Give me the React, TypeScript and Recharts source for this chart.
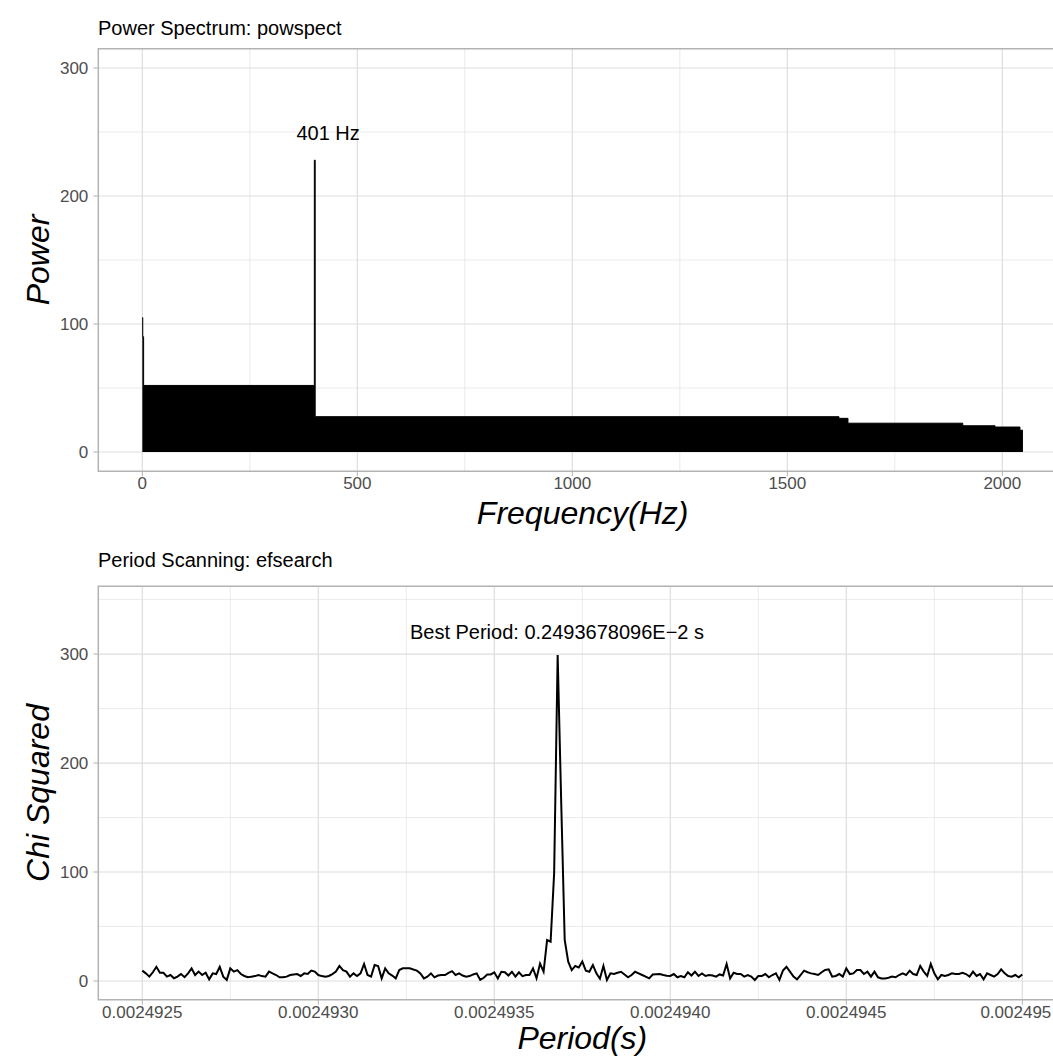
import {
  ComposedChart,
  Area,
  Line,
  XAxis,
  YAxis,
  CartesianGrid,
  ReferenceArea,
  ReferenceDot,
  Label,
} from "recharts";

const FONT = "'Liberation Sans', Arial, Helvetica, sans-serif";
const GRID = "#DEDEDE";
const BORDER = "#B3B3B3";
const TICK_TEXT = "#4D4D4D";

// powspect: upper envelope of the spectrum (step edges)
const specFreq = [0, 1, 3, 400, 402, 1620, 1641, 1908, 1983, 2041, 2048];
const specPower = [105, 90, 52, 228, 27.6, 26.3, 22.5, 20.5, 19.5, 17, 17];
const freqTicks = [0, 500, 1000, 1500, 2000];
const freqMinor = [250, 750, 1250, 1750];
const freqDomain = [-102.4, 2150.4];
const powerTicks = [0, 100, 200, 300];
const powerMinor = [50, 150, 250];
const powerDomain = [-15, 315];
const peakFreq = 401;

// efsearch: chi squared per trial period
const PERIOD_START = 0.0024925;
const PERIOD_STEP = 1e-8;
const chiSquared = [
  9.5, 7, 4, 8, 13, 7.5, 7.6, 4, 5.5, 2.5,
  4, 6.4, 3.5, 7, 11.6, 5.5, 8.6, 5.5, 7.6, 1.5,
  7, 6.4, 13, 4, 1, 11.6, 8.6, 10, 6.4, 4.6,
  3.4, 4, 4.5, 5.5, 4.5, 4, 8.6, 7, 5.5, 3.4,
  3.4, 4, 5.5, 6, 6.4, 4.6, 7, 6.4, 9.5, 8.6,
  5.5, 4.5, 4, 4.6, 6.4, 8.6, 13.8, 10, 8.6, 4,
  7, 4.6, 7, 15.6, 5.5, 4, 14.7, 13.8, 2.4, 11.6,
  7, 5, 2.4, 10, 11.6, 11.6, 11.6, 10.5, 9.5, 7,
  2.4, 4, 7, 3.4, 5, 5.5, 5.5, 7.5, 9, 5.5,
  7, 5, 4, 4.5, 6, 7, 1, 3, 6, 6,
  8, 2.4, 8.5, 8, 5, 8.5, 4, 8, 4.5, 5.5,
  5.5, 11.6, 2.5, 16, 8.5, 37.6, 36, 99, 299, 165,
  37.6, 17.7, 10, 13.8, 12.4, 17.8, 9.5, 8.5, 14.7, 7,
  2.1, 13.8, 1, 7, 6.5, 7.6, 8.5, 6, 3.4, 5.5,
  8.5, 7, 5.5, 4, 2.4, 6, 6.2, 6.4, 5.5, 4.9,
  4.6, 6.4, 3.4, 4.6, 3.4, 8, 5, 8.5, 4.6, 7,
  4.6, 5.5, 5, 4, 6, 5, 15.6, 2.4, 7.6, 6.4,
  6.4, 4, 5.5, 4, 0.9, 4.6, 4.6, 6.4, 3.4, 5.5,
  7, 1, 9.5, 13.1, 8.6, 4, 1.5, 5.5, 9.5, 8,
  7, 6.4, 5.5, 8, 10.1, 10.7, 4, 4.6, 6.4, 4,
  11.6, 6.4, 7, 10.1, 10.1, 6.4, 8.6, 4, 8.6, 3.4,
  2.4, 2.4, 3, 4, 3.4, 5.5, 7, 5.5, 9.5, 6.4,
  5.5, 13.8, 8.6, 4.6, 15.6, 7, 1.5, 5.5, 4.6, 5.5,
  7, 6.4, 6.4, 7.6, 6.4, 4, 8.6, 4.6, 6.4, 1.5,
  7, 5.5, 4, 6.4, 10.7, 7, 4.6, 4, 5.5, 3.4,
  6,
];
const periodTicks = [0.0024925, 0.002493, 0.0024935, 0.002494, 0.0024945, 0.002495];
const periodTickLabels = ["0.0024925", "0.0024930", "0.0024935", "0.0024940", "0.0024945", "0.002495"];
const periodMinor = [0.00249275, 0.00249325, 0.00249375, 0.00249425, 0.00249475];
const periodDomain = [0.002492375, 0.002495125];
const chiTicks = [0, 100, 200, 300];
const chiMinor = [50, 150, 250, 350];
const chiDomain = [-17.25, 362.25];
const bestPeriod = 0.0024936781;

const tickStyle = { fill: TICK_TEXT, fontSize: 17, fontFamily: FONT };

const periodLabel = (v: number) => {
  const i = periodTicks.findIndex((t) => Math.abs(t - v) < 1e-11);
  return i >= 0 ? periodTickLabels[i] : "";
};

// last label sits at the right edge of the page, keep it inside
const PeriodTick = (props: any) => {
  const { x, y, payload } = props;
  const label = periodLabel(payload.value);
  const last = label === periodTickLabels[periodTickLabels.length - 1];
  return (
    <text
      x={last ? x + 29 : x}
      y={y}
      dy="0.71em"
      textAnchor={last ? "end" : "middle"}
      fill={TICK_TEXT}
      fontSize={17}
      fontFamily={FONT}
    >
      {label}
    </text>
  );
};

const xTitle = (text: string) => (props: any) => {
  const { viewBox } = props;
  return (
    <text
      x={viewBox.x + viewBox.width / 2}
      y={viewBox.y + viewBox.height - 11}
      textAnchor="middle"
      fontSize={32}
      fontStyle="italic"
      fontFamily={FONT}
      fill="#000"
    >
      {text}
    </text>
  );
};

const yTitle = (text: string) => (props: any) => {
  const { viewBox } = props;
  const cx = viewBox.x + 37.5;
  const cy = viewBox.y + viewBox.height / 2;
  return (
    <text
      x={cx}
      y={cy}
      dy="0.36em"
      transform={`rotate(-90, ${cx}, ${cy})`}
      textAnchor="middle"
      fontSize={32}
      fontStyle="italic"
      fontFamily={FONT}
      fill="#000"
    >
      {text}
    </text>
  );
};

const titleStyle = {
  position: "absolute" as const,
  left: 98,
  fontSize: 20,
  lineHeight: "20px",
  fontFamily: FONT,
  color: "#000",
  whiteSpace: "nowrap" as const,
};

export default function App() {
  const specData = specFreq.map((f, i) => ({ f, p: specPower[i] }));
  const scanData = chiSquared.map((c, i) => ({ period: PERIOD_START + i * PERIOD_STEP, chi: c }));

  return (
    <div
      style={{
        position: "fixed",
        left: 0,
        top: 0,
        width: 1053,
        height: 1060,
        overflow: "hidden",
        background: "#fff",
        fontFamily: FONT,
      }}
    >
      <div style={{ ...titleStyle, top: 18 }}>Power Spectrum: powspect</div>
      <div style={{ position: "absolute", left: 0, top: 0 }}>
        <ComposedChart width={1080} height={535} data={specData} margin={{ top: 48.8, right: 13, bottom: 0, left: 0 }}>
          <CartesianGrid stroke={GRID} strokeWidth={0.6} horizontalValues={powerMinor} verticalValues={freqMinor} />
          <CartesianGrid stroke={GRID} strokeWidth={1.2} horizontalValues={powerTicks} verticalValues={freqTicks} />
          <XAxis
            type="number"
            dataKey="f"
            domain={freqDomain}
            allowDataOverflow
            ticks={freqTicks}
            interval={0}
            height={63.8}
            axisLine={false}
            tickSize={5}
            tickMargin={1}
            tickLine={{ stroke: BORDER }}
            tick={tickStyle}
          >
            <Label content={xTitle("Frequency(Hz)")} />
          </XAxis>
          <YAxis
            type="number"
            domain={powerDomain}
            allowDataOverflow
            ticks={powerTicks}
            interval={0}
            width={98.3}
            axisLine={false}
            tickSize={5}
            tickMargin={5}
            tickLine={{ stroke: BORDER }}
            tick={tickStyle}
          >
            <Label content={yTitle("Power")} />
          </YAxis>
          <ReferenceArea
            x1={freqDomain[0]}
            x2={freqDomain[1]}
            y1={powerDomain[0]}
            y2={powerDomain[1]}
            fill="none"
            stroke={BORDER}
            strokeWidth={1.5}
            ifOverflow="visible"
          />
          <Area
            type="stepAfter"
            dataKey="p"
            baseValue={0}
            stroke="#000"
            strokeWidth={1}
            fill="#000"
            fillOpacity={1}
            dot={false}
            activeDot={false}
            isAnimationActive={false}
          />
          <ReferenceDot
            x={432}
            y={249}
            r={0}
            fill="none"
            stroke="none"
            label={{ value: `${peakFreq} Hz`, position: "center", fontSize: 20, fill: "#000", fontFamily: FONT }}
          />
        </ComposedChart>
      </div>

      <div style={{ ...titleStyle, top: 550 }}>Period Scanning: efsearch</div>
      <div style={{ position: "absolute", left: 0, top: 535 }}>
        <ComposedChart width={1080} height={525} data={scanData} margin={{ top: 51.2, right: 13.7, bottom: 0, left: 0 }}>
          <CartesianGrid stroke={GRID} strokeWidth={0.6} horizontalValues={chiMinor} verticalValues={periodMinor} />
          <CartesianGrid stroke={GRID} strokeWidth={1.2} horizontalValues={chiTicks} verticalValues={periodTicks} />
          <XAxis
            type="number"
            dataKey="period"
            domain={periodDomain}
            allowDataOverflow
            ticks={periodTicks}
            interval={0}
            height={60.2}
            axisLine={false}
            tickSize={5}
            tickMargin={1}
            tickLine={{ stroke: BORDER }}
            tick={<PeriodTick />}
          >
            <Label content={xTitle("Period(s)")} />
          </XAxis>
          <YAxis
            type="number"
            domain={chiDomain}
            allowDataOverflow
            ticks={chiTicks}
            interval={0}
            width={98.3}
            axisLine={false}
            tickSize={5}
            tickMargin={5}
            tickLine={{ stroke: BORDER }}
            tick={tickStyle}
          >
            <Label content={yTitle("Chi Squared")} />
          </YAxis>
          <ReferenceArea
            x1={periodDomain[0]}
            x2={periodDomain[1]}
            y1={chiDomain[0]}
            y2={chiDomain[1]}
            fill="none"
            stroke={BORDER}
            strokeWidth={1.5}
            ifOverflow="visible"
          />
          <Line
            type="linear"
            dataKey="chi"
            stroke="#000"
            strokeWidth={2}
            dot={false}
            activeDot={false}
            isAnimationActive={false}
          />
          <ReferenceDot
            x={bestPeriod}
            y={320}
            r={0}
            fill="none"
            stroke="none"
            label={{
              value: "Best Period: 0.2493678096E\u22122 s",
              position: "center",
              fontSize: 20,
              fill: "#000",
              fontFamily: FONT,
            }}
          />
        </ComposedChart>
      </div>
    </div>
  );
}
